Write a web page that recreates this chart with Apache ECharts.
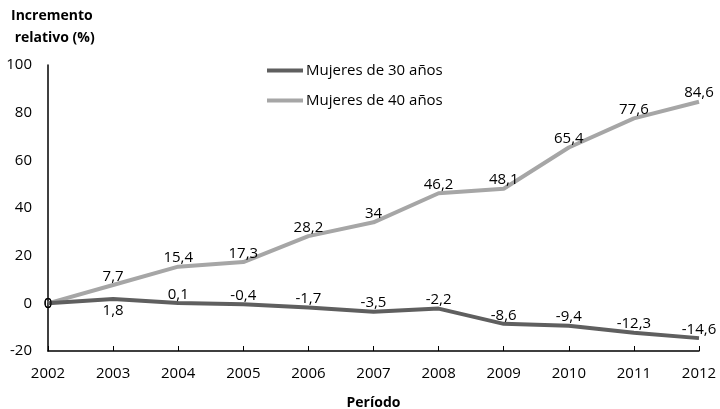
<!DOCTYPE html>
<html>
<head>
<meta charset="utf-8">
<script src="https://cdn.jsdelivr.net/npm/echarts@6/dist/echarts.min.js"></script>
<style>html,body{margin:0;padding:0;background:#fff;overflow:hidden}#c{width:720px;height:409px}</style>
</head>
<body>
<div id="c"></div>
<script>
var years = ['2002','2003','2004','2005','2006','2007','2008','2009','2010','2011','2012'];
var mujeres30 = [0, 1.8, 0.1, -0.4, -1.7, -3.5, -2.2, -8.6, -9.4, -12.3, -14.6];
var mujeres40 = [0, 7.7, 15.4, 17.3, 28.2, 34, 46.2, 48.1, 65.4, 77.6, 84.6];
var yTicks = [-20, 0, 20, 40, 60, 80, 100];
var seriesNames = ['Mujeres de 30 años', 'Mujeres de 40 años'];

var FONT = 'Open Sans';
var FS = 15;
function fmt(v){ return String(v).replace('.', ','); }

function buildData(values, belowIdx){
  return values.map(function(v, i){
    var item = {value: v};
    if (i === 0) item.label = {position: 'inside'};
    else if (belowIdx.indexOf(i) >= 0) item.label = {position: 'bottom', distance: 4};
    return item;
  });
}

var chart = echarts.init(document.getElementById('c'), null, {renderer:'canvas', width:720, height:409});
chart.setOption({
  animation: false,
  textStyle: {fontFamily: FONT},
  title: {
    text: 'Incremento\n relativo (%)',
    left: 6, top: 0,
    textStyle: {fontFamily: FONT, fontSize: 14, fontWeight: 'bold', color: '#000', lineHeight: 22}
  },
  legend: {
    data: seriesNames,
    orient: 'vertical',
    left: 262, top: 58,
    itemWidth: 36, itemHeight: 4, itemGap: 15,
    icon: 'rect',
    textStyle: {fontFamily: FONT, fontSize: FS, color: '#000', padding: [0,0,0,-2]}
  },
  grid: {left: 48, width: 651, top: 65, height: 286, containLabel: false, outerBoundsMode: 'none'},
  xAxis: {
    type: 'category',
    data: years,
    boundaryGap: false,
    name: 'Período',
    nameLocation: 'middle',
    nameGap: 45,
    nameTextStyle: {fontFamily: FONT, fontSize: 14, fontWeight: 'bold', color: '#000'},
    axisLine: {onZero: false, lineStyle: {color: '#000', width: 1.5}},
    axisTick: {inside: true, length: 5, alignWithLabel: true, lineStyle: {color: '#000'}},
    axisLabel: {fontFamily: FONT, fontSize: FS, color: '#000', margin: 15}
  },
  yAxis: {
    type: 'value',
    min: yTicks[0], max: yTicks[yTicks.length-1], interval: 20,
    axisLine: {show: true, lineStyle: {color: '#000', width: 1.5}},
    axisTick: {show: false},
    splitLine: {show: false},
    axisLabel: {fontFamily: FONT, fontSize: FS, color: '#000', margin: 16}
  },
  series: [
    {
      name: seriesNames[0], type: 'line', data: buildData(mujeres30, [1]),
      symbol: 'circle', symbolSize: 0.1, showSymbol: true, z: 3,
      lineStyle: {color: '#5f5f5f', width: 4},
      itemStyle: {color: '#5f5f5f'},
      label: {
        show: true, position: 'top', distance: 1,
        fontFamily: FONT, fontSize: FS, color: '#000',
        formatter: function(p){ return fmt(p.value); }
      }
    },
    {
      name: seriesNames[1], type: 'line', data: buildData(mujeres40, []),
      symbol: 'circle', symbolSize: 0.1, showSymbol: true, z: 2,
      lineStyle: {color: '#a6a6a6', width: 4},
      itemStyle: {color: '#a6a6a6'},
      label: {
        show: true, position: 'top', distance: 1,
        fontFamily: FONT, fontSize: FS, color: '#000',
        formatter: function(p){ return fmt(p.value); }
      }
    }
  ]
});
</script>
</body>
</html>
